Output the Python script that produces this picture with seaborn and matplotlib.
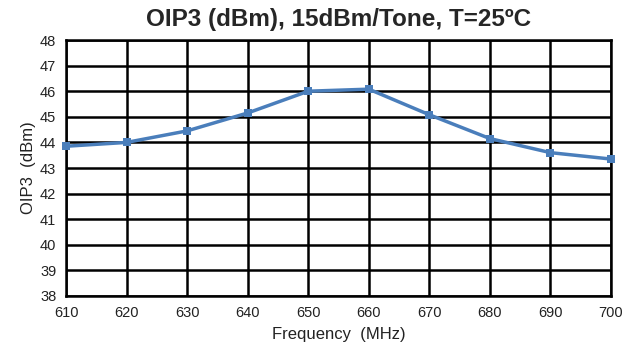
import matplotlib
matplotlib.use("Agg")
import matplotlib.pyplot as plt
import seaborn as sns
import pandas as pd

freq_mhz = [610, 620, 630, 640, 650, 660, 670, 680, 690, 700]
oip3_dbm = [43.85, 44.0, 44.45, 45.15, 46.0, 46.08, 45.08, 44.15, 43.6, 43.35]
x_ticks = [610, 620, 630, 640, 650, 660, 670, 680, 690, 700]
y_ticks = list(range(38, 49))

sns.set_theme(style="white")
plt.rcParams["font.family"] = ["Liberation Sans", "DejaVu Sans"]

df = pd.DataFrame({"Frequency": freq_mhz, "OIP3": oip3_dbm})

fig = plt.figure(figsize=(6.36, 3.51), dpi=100)
ax = fig.add_axes([0.1038, 0.1567, 0.8569, 0.7293])

sns.lineplot(data=df, x="Frequency", y="OIP3", ax=ax, color="#4A7EBB",
             linewidth=2.5, marker="s", markersize=6, markeredgewidth=0,
             zorder=5, clip_on=False)

ax.set_xlim(610, 700)
ax.set_ylim(38, 48)
ax.set_xticks(x_ticks)
ax.set_yticks(y_ticks)
ax.grid(True, color="black", linewidth=1.8)
ax.set_axisbelow(True)
for s in ax.spines.values():
    s.set_color("black")
    s.set_linewidth(1.8)
ax.tick_params(axis="both", which="both", direction="out", length=4, width=1.5,
               color="black", labelsize=10.5, labelcolor="#222222", pad=3)

ax.set_xlabel("Frequency  (MHz)", fontsize=12, color="#222222", labelpad=5)
ax.set_ylabel("OIP3  (dBm)", fontsize=12, color="#222222", labelpad=3)
fig.suptitle("OIP3 (dBm), 15dBm/Tone, T=25ºC", fontsize=17.5, fontweight="bold",
             x=0.532, y=0.978)

fig.savefig("out.png", dpi=100)
